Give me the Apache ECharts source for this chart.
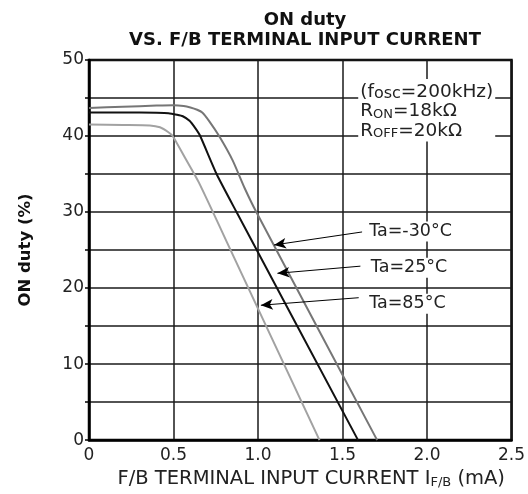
<!DOCTYPE html>
<html>
<head>
<meta charset="utf-8">
<script src="https://cdn.jsdelivr.net/npm/echarts@6/dist/echarts.min.js"></script>
<style>
  html, body { margin: 0; padding: 0; background: #fff; }
  #chart { width: 528px; height: 494px; }
</style>
</head>
<body>
<div id="chart"></div>
<script>
// Axis tick labels
const currentTicks = [0, 0.5, 1.0, 1.5, 2.0, 2.5];
const currentTickLabels = ['0', '0.5', '1.0', '1.5', '2.0', '2.5'];
const dutyTickLabels = [0, 10, 20, 30, 40, 50];

// Temperature curves: [F/B current (mA), ON duty (%)]
const seriesNames = ['Ta=-30°C', 'Ta=25°C', 'Ta=85°C'];
const dutyAtMinus30 = [
  [0, 43.7], [0.2, 43.85], [0.4, 44.0], [0.5, 44.05], [0.56, 43.95], [0.6, 43.75],
  [0.64, 43.45], [0.67, 43.1], [0.71, 42.0], [0.77, 40.0], [0.85, 36.8], [0.92, 33.2],
  [0.99, 30.0], [1.705, 0]
];
const dutyAt25 = [
  [0, 43.1], [0.2, 43.1], [0.4, 43.05], [0.47, 43.0], [0.52, 42.8], [0.555, 42.6],
  [0.595, 42.0], [0.63, 41.0], [0.658, 40.0], [0.755, 35.0], [0.873, 30.0], [1.592, 0]
];
const dutyAt85 = [
  [0, 41.5], [0.2, 41.45], [0.36, 41.4], [0.42, 41.15], [0.47, 40.5], [0.495, 40.0],
  [0.564, 37.3], [0.652, 33.8], [0.838, 25.0], [1.364, 0]
];

// Callout arrows: [label end, arrow tip] and text anchors, in data units
const arrowMinus30 = [[1.616, 27.38], [1.095, 25.67]];
const arrow25 = [[1.606, 22.88], [1.115, 21.94]];
const arrow85 = [[1.596, 18.73], [1.017, 17.74]];
const labelAnchors = [[1.655, 27.38], [1.665, 22.62], [1.655, 17.87]];
const conditionAnchor = [1.596, 47.43];

const FONT = 'DejaVu Sans';
const curveColors = ['#767676', '#111111', '#a2a2a2'];
const curves = [dutyAtMinus30, dutyAt25, dutyAt85];
const arrows = [arrowMinus30, arrow25, arrow85];

const calloutLabel = {
  show: true,
  position: [0, 0],
  align: 'left',
  verticalAlign: 'middle',
  color: '#222',
  fontFamily: FONT,
  fontSize: 17.5,
  backgroundColor: '#fff',
  padding: [1, 1]
};

const series = curves.map((data, i) => {
  const markPointData = [{
    coord: labelAnchors[i],
    label: Object.assign({}, calloutLabel, { formatter: seriesNames[i] })
  }];
  if (i === 0) {
    markPointData.push({
      coord: conditionAnchor,
      label: {
        show: true,
        position: [0, 0],
        align: 'left',
        verticalAlign: 'top',
        backgroundColor: '#fff',
        padding: [3, 2, 1, 2],
        width: 133,
        formatter: '{m|(f}{s|osc}{m|=200kHz)}\n{m|R}{c|ON}{m|=18kΩ}\n{m|R}{c|OFF}{m|=20kΩ}',
        rich: {
          m: { fontFamily: FONT, fontSize: 18.5, color: '#222', lineHeight: 19.5, verticalAlign: 'bottom' },
          s: { fontFamily: FONT, fontSize: 16, color: '#222', lineHeight: 18.5, verticalAlign: 'bottom' },
          c: { fontFamily: FONT, fontSize: 13, color: '#222', lineHeight: 16, verticalAlign: 'bottom' }
        }
      }
    });
  }
  return {
    name: seriesNames[i],
    type: 'line',
    data: data,
    showSymbol: false,
    smooth: 0.2,
    lineStyle: { color: curveColors[i], width: 2 },
    z: 3,
    markLine: {
      silent: true,
      symbol: ['none', 'arrow'],
      symbolSize: [8, 12],
      lineStyle: { color: '#000', width: 1, type: 'solid' },
      label: { show: false },
      data: [[{ coord: arrows[i][0] }, { coord: arrows[i][1] }]]
    },
    markPoint: {
      silent: true,
      symbol: 'rect',
      symbolSize: 1,
      itemStyle: { color: 'rgba(0,0,0,0)' },
      data: markPointData
    }
  };
});

const chart = echarts.init(document.getElementById('chart'), null, { renderer: 'canvas' });
chart.setOption({
  animation: false,
  backgroundColor: '#fff',
  title: {
    text: 'ON duty\nVS. F/B TERMINAL INPUT CURRENT',
    left: 305,
    top: 10,
    padding: 0,
    textAlign: 'center',
    textStyle: { fontFamily: FONT, fontSize: 18, fontWeight: 'bold', color: '#111', lineHeight: 20 }
  },
  grid: {
    left: 89, right: 15, top: 60, bottom: 45,
    show: true, borderColor: '#000', borderWidth: 2.5, backgroundColor: 'transparent'
  },
  xAxis: {
    type: 'value',
    min: 0, max: 2.5, interval: 0.5,
    name: '{m|F/B TERMINAL INPUT CURRENT I}{s|F/B}{m| (mA)}',
    nameLocation: 'middle',
    nameGap: 24,
    nameTextStyle: {
      fontFamily: FONT, fontSize: 19.5, color: '#222', padding: [0, 0, 0, 22],
      rich: {
        m: { fontFamily: FONT, fontSize: 19.5, color: '#222', lineHeight: 21, verticalAlign: 'bottom' },
        s: { fontFamily: FONT, fontSize: 13, color: '#222', lineHeight: 17, verticalAlign: 'bottom' }
      }
    },
    axisLine: { show: true, lineStyle: { color: '#000', width: 2.5 } },
    axisTick: { show: false },
    axisLabel: {
      margin: 7, fontFamily: FONT, fontSize: 17, color: '#222',
      formatter: v => {
        const k = currentTicks.findIndex(t => Math.abs(t - v) < 1e-9);
        return k >= 0 ? currentTickLabels[k] : '';
      }
    },
    splitLine: { show: true, lineStyle: { color: '#1a1a1a', width: 1.5 } }
  },
  yAxis: {
    type: 'value',
    min: 0, max: 50, interval: 5,
    name: 'ON duty (%)',
    nameLocation: 'middle',
    nameGap: 55,
    nameTextStyle: { fontFamily: FONT, fontSize: 16.5, fontWeight: 'bold', color: '#111' },
    axisLine: { show: true, lineStyle: { color: '#000', width: 2.5 } },
    axisTick: { show: true, length: 4, lineStyle: { color: '#000', width: 1.5 } },
    axisLabel: {
      margin: 5, fontFamily: FONT, fontSize: 17, color: '#222',
      formatter: v => (dutyTickLabels.indexOf(v) >= 0 ? String(v) : '')
    },
    splitLine: { show: true, lineStyle: { color: '#1a1a1a', width: 1.5 } }
  },
  series: series
});
</script>
</body>
</html>
